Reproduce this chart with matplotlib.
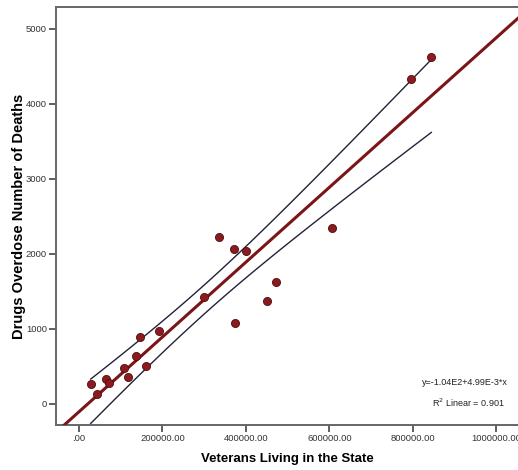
"""
Scatter: drug overdose deaths vs veterans living in the state,
with linear fit and 95% confidence band for the mean (SPSS-style).
"""

import numpy as np
import matplotlib.pyplot as plt

# data
veterans = [28100, 43900, 65500, 72000, 108000, 117000, 136000, 145000,
            161000, 192000, 299000, 336000, 372000, 374000, 399000,
            450000, 473000, 607000, 795000, 844000]
deaths = [267, 129, 329, 284, 484, 356, 640, 889,
          507, 977, 1423, 2231, 2063, 1076, 2044,
          1373, 1631, 2351, 4337, 4631]

intercept = -104.0
slope = 4.99e-3
r2_text = "R$^2$ Linear = 0.901"
eq_text = "y=-1.04E2+4.99E-3*x"

xticks = [0, 200000, 400000, 600000, 800000, 1000000]
xticklabels = [".00", "200000.00", "400000.00", "600000.00", "800000.00", "1000000.00"]
yticks = [0, 1000, 2000, 3000, 4000, 5000]

plt.rcParams["font.family"] = ["Liberation Sans", "DejaVu Sans"]

fig = plt.figure(figsize=(5.18, 4.70), dpi=100)
ax = fig.add_axes([56 / 518, 1 - 425 / 470, 1 - 56 / 518 + 0.002, (425 - 7) / 470])

x = np.asarray(veterans, dtype=float)
y = np.asarray(deaths, dtype=float)

# fit line across whole axis
xlim = (-55000, 1054000)
xf = np.linspace(xlim[0], xlim[1], 50)
ax.plot(xf, intercept + slope * xf, color="#7a1518", lw=2.2, zorder=3)

# 95% CI of the mean over data range
n = len(x)
resid = y - (intercept + slope * x)
s = np.sqrt(np.sum(resid ** 2) / (n - 2))
t = 2.101
xbar = x.mean()
sxx = np.sum((x - xbar) ** 2)
xc = np.linspace(x.min(), x.max(), 100)
half = t * s * np.sqrt(1 / n + (xc - xbar) ** 2 / sxx)
yc = intercept + slope * xc
ax.plot(xc, yc + half, color="#22223a", lw=1.0, zorder=2)
ax.plot(xc, yc - half, color="#22223a", lw=1.0, zorder=2)

ax.scatter(x, y, s=34, color="#8e1a1e", edgecolor="#4a0d0f", linewidth=0.6, zorder=4)

ax.set_xlim(*xlim)
ax.set_ylim(-280, 5293)
ax.set_xticks(xticks)
ax.set_xticklabels(xticklabels)
ax.set_yticks(yticks)
ax.tick_params(direction="out", length=5, width=1.2, color="#444444",
               labelsize=6.8, labelcolor="#333333", pad=1.5)

for side in ["left", "bottom", "top"]:
    ax.spines[side].set_color("#666666")
    ax.spines[side].set_linewidth(1.4)
ax.spines["right"].set_visible(False)

ax.set_xlabel("Veterans Living in the State", fontsize=9.5, fontweight="bold", labelpad=7)
ax.set_ylabel("Drugs Overdose Number of Deaths", fontsize=10.5, fontweight="bold", labelpad=0)

ax.text(1027000, 280, eq_text, fontsize=6.5, ha="right", va="center", color="#222222")
ax.text(1020000, 13, r2_text, fontsize=6.5, ha="right", va="center", color="#222222")

plt.savefig("out.png", dpi=100)
plt.close()
